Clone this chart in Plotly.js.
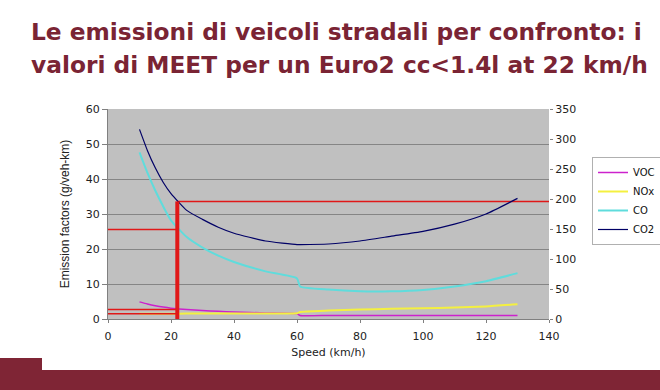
<!DOCTYPE html>
<html>
<head>
<meta charset="utf-8">
<script src="https://cdn.plot.ly/plotly-3.0.1.min.js"></script>
<style>
html,body{margin:0;padding:0;background:#fff;overflow:hidden;}
#chart{width:660px;height:390px;}
</style>
</head>
<body>
<div id="chart"></div>
<script>
// ---- data ----
const speed = [10, 12.5, 15, 17.5, 20, 25, 30, 35, 40, 50, 60, 61, 70, 80, 90, 100, 110, 120, 130];
const voc   = [4.9, 4.3, 3.8, 3.4, 3.1, 2.7, 2.4, 2.2, 2.0, 1.75, 1.55, 1.0, 1.0, 1.0, 1.0, 1.0, 1.0, 1.0, 1.0];
const nox   = [1.5, 1.5, 1.5, 1.5, 1.5, 1.55, 1.6, 1.6, 1.6, 1.6, 1.65, 2.0, 2.4, 2.7, 2.9, 3.05, 3.3, 3.6, 4.2];
const co    = [47.6, 41.8, 36.7, 32.2, 28.2, 23.4, 20.4, 18.1, 16.3, 13.6, 11.6, 9.3, 8.4, 7.9, 7.9, 8.3, 9.3, 10.8, 13.1];
const co2   = [316, 281, 252, 228, 209, 181, 166, 153, 143, 130, 124, 124, 125, 130, 138, 146, 158, 175, 201];

const seriesNames = ['VOC', 'NOx', 'CO', 'CO2'];

// reading at the reference speed
const refSpeed = 22;
const refCO2 = 196;
const refCO = 25.6;
const refVOC = 2.7;
const refNOx = 1.5;

const xRange = [0, 140];
const yRange = [0, 60];
const y2Range = [0, 350];

const titleLines = [
  'Le emissioni di veicoli stradali per confronto: i',
  'valori di MEET per un Euro2 cc<1.4l at 22 km/h'
];
const xTitle = 'Speed (km/h)';
const yTitle = 'Emission factors (g/veh-km)';

// ---- plot ----
const red = '#e01818';
const font = 'DejaVu Sans, Liberation Sans, Arial, sans-serif';
const tickFont = {family: font, size: 11, color: '#222'};

const traces = [
  {x: speed, y: voc, name: seriesNames[0], mode: 'lines', line: {color: '#cc22cc', width: 1.5, shape: 'spline', smoothing: 0.5}, legendrank: 1},
  {x: speed, y: nox, name: seriesNames[1], mode: 'lines', line: {color: '#f4f040', width: 2, shape: 'spline', smoothing: 0.5}, legendrank: 2},
  {x: speed, y: co, name: seriesNames[2], mode: 'lines', line: {color: '#5fdcdc', width: 2, shape: 'spline', smoothing: 0.5}, legendrank: 3},
  // red reading lines on the left axis
  {x: [xRange[0], refSpeed], y: [refCO, refCO], mode: 'lines', line: {color: red, width: 1.5}, showlegend: false, hoverinfo: 'skip'},
  {x: [xRange[0], refSpeed], y: [refVOC, refVOC], mode: 'lines', line: {color: red, width: 1.5}, showlegend: false, hoverinfo: 'skip'},
  {x: [xRange[0], refSpeed], y: [refNOx, refNOx], mode: 'lines', line: {color: red, width: 1.5}, showlegend: false, hoverinfo: 'skip'},
  // right axis
  {x: [refSpeed, xRange[1]], y: [refCO2, refCO2], yaxis: 'y2', mode: 'lines', line: {color: red, width: 1.5}, showlegend: false, hoverinfo: 'skip'},
  {x: speed, y: co2, name: seriesNames[3], yaxis: 'y2', mode: 'lines', line: {color: '#000066', width: 1.2, shape: 'spline', smoothing: 0.5}, legendrank: 4},
  {x: [refSpeed, refSpeed], y: [0, refCO2], yaxis: 'y2', mode: 'lines', line: {color: red, width: 4}, showlegend: false, hoverinfo: 'skip'}
];

const layout = {
  width: 660, height: 390, autosize: false,
  margin: {l: 108, r: 111, t: 109, b: 71, pad: 0, autoexpand: false},
  paper_bgcolor: '#ffffff',
  plot_bgcolor: '#c0c0c0',
  font: {family: font, size: 11, color: '#222'},
  showlegend: true,
  legend: {
    xref: 'container', yref: 'container',
    x: 592 / 660, xanchor: 'left', y: 1 - 201 / 390, yanchor: 'middle',
    bgcolor: '#ffffff', bordercolor: '#b0b0b0', borderwidth: 1,
    font: {family: font, size: 10, color: '#111'},
    itemwidth: 30, tracegroupgap: 0
  },
  xaxis: {
    range: xRange, dtick: 20, showgrid: false, zeroline: false,
    showline: true, linecolor: '#808080', linewidth: 1,
    ticks: 'outside', ticklen: 3, tickcolor: '#808080',
    ticklabelstandoff: 4,
    tickfont: tickFont,
    title: {text: xTitle, font: {family: font, size: 11, color: '#222'}, standoff: 6},
    fixedrange: true
  },
  yaxis: {
    range: yRange, dtick: 10, showgrid: true, gridcolor: '#858585', gridwidth: 1,
    zeroline: false, showline: true, linecolor: '#808080', linewidth: 1,
    ticks: 'outside', ticklen: 5, tickcolor: '#808080',
    tickfont: tickFont,
    title: {text: yTitle, font: {family: 'Liberation Sans Narrow, Liberation Sans, Arial, sans-serif', size: 12, color: '#222'}, standoff: 13},
    fixedrange: true
  },
  yaxis2: {
    range: y2Range, dtick: 50, overlaying: 'y', side: 'right',
    showgrid: false, zeroline: false, showline: false,
    ticks: 'outside', ticklen: 3, tickcolor: '#808080',
    tickfont: tickFont,
    fixedrange: true
  },
  annotations: [
    {text: '<b>' + titleLines[0] + '</b>', xref: 'paper', yref: 'paper', x: (29 - 108) / 441, y: (319 - 31) / 210,
     xanchor: 'left', yanchor: 'middle', showarrow: false, font: {family: font, size: 23.3, color: '#7a2434'}},
    {text: '<b>' + titleLines[1] + '</b>', xref: 'paper', yref: 'paper', x: (29 - 108) / 441, y: (319 - 64) / 210,
     xanchor: 'left', yanchor: 'middle', showarrow: false, font: {family: font, size: 23.3, color: '#7a2434'}}
  ],
  shapes: [
    {type: 'rect', xref: 'paper', yref: 'paper', x0: (0 - 108) / 441, x1: (660 - 108) / 441, y0: (319 - 390) / 210, y1: (319 - 370) / 210,
     fillcolor: '#7f2535', line: {width: 0}, layer: 'above'},
    {type: 'rect', xref: 'paper', yref: 'paper', x0: (0 - 108) / 441, x1: (42 - 108) / 441, y0: (319 - 390) / 210, y1: (319 - 358) / 210,
     fillcolor: '#7f2535', line: {width: 0}, layer: 'above'}
  ]
};

Plotly.newPlot('chart', traces, layout, {staticPlot: true, displayModeBar: false});
</script>
</body>
</html>
